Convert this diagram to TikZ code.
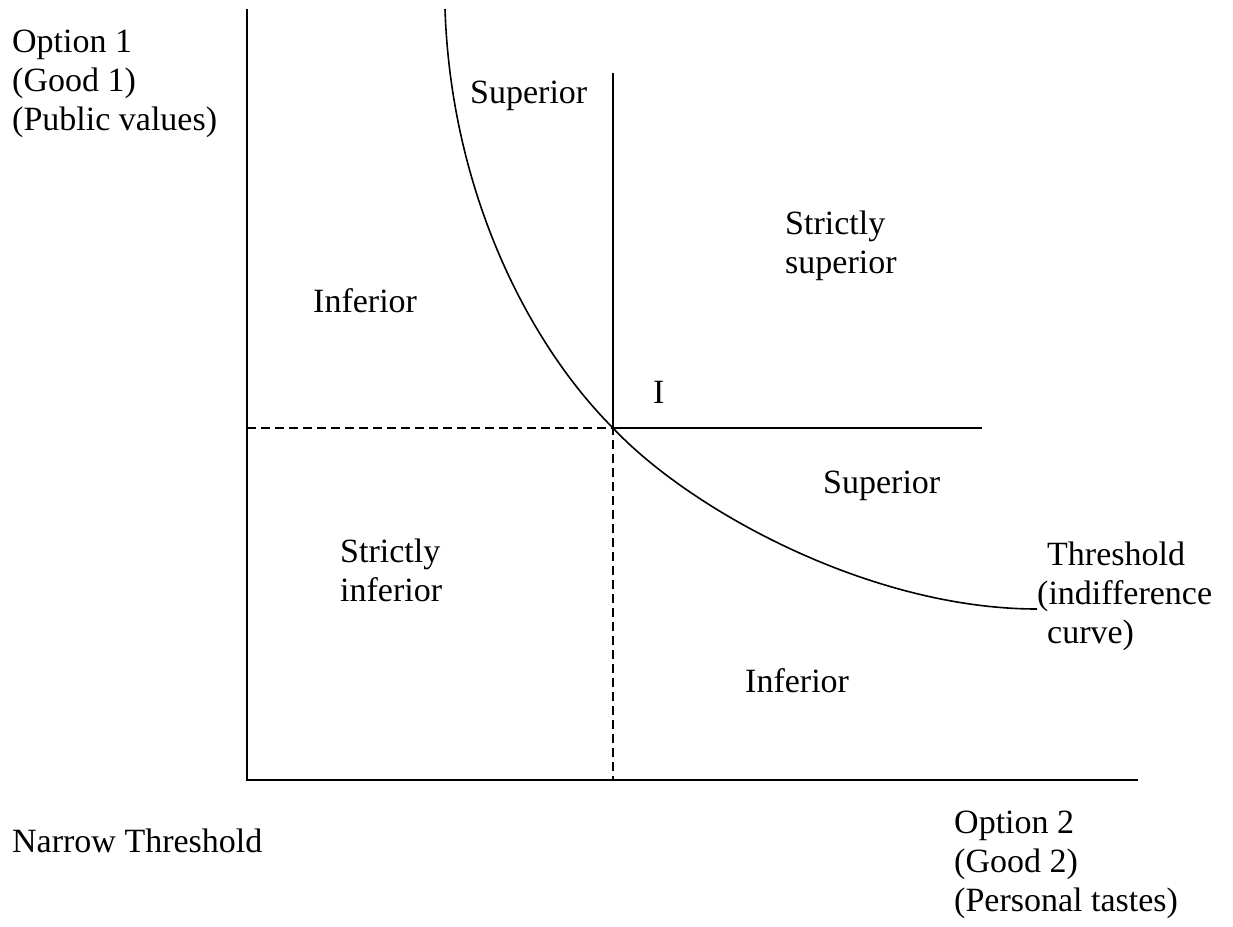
\documentclass[tikz,border=0pt]{standalone}
\usepackage{fontspec}
\setmainfont{Liberation Serif}
\begin{document}
\begin{tikzpicture}[x=1pt,y=-1pt,
  lbl/.style={font=\fontsize{34}{39}\selectfont, inner sep=0pt, anchor=base west, align=left},
  axisline/.style={line width=1.7pt},
  guide/.style={line width=2.7pt, dash pattern=on 9pt off 5pt},
  curveline/.style={line width=1.6pt}]
  \useasboundingbox (0,0) rectangle (1233,926);
  % key points
  \coordinate (Otop)  at (247,9);
  \coordinate (O)     at (247,780);
  \coordinate (Xend)  at (1138,780);
  \coordinate (Yq)    at (247,428);
  \coordinate (I)     at (613,428);
  \coordinate (Xq)    at (613,780);
  \coordinate (Itop)  at (613,73);
  \coordinate (Iright) at (982,428);
  \coordinate (Cstart) at (445,9);
  \coordinate (Cend)  at (1037,609);
  % axes
  \draw[axisline] (Otop) -- (O) -- (Xend);
  % quadrant lines through I
  \draw[axisline] (Itop) -- (I) -- (Iright);
  \draw[guide] (Yq) -- (I) -- (Xq);
  % threshold (indifference curve)
  \draw[curveline] (Cstart) .. controls (451,190) and (527,342) .. (I)
                   .. controls (690,510) and (870,609) .. (Cend);
  % labels (multi-line nodes sit on the baseline of their last line)
  \node[lbl] (yaxis) at (12,130) {Option 1\\(Good 1)\\(Public values)};
  \node[lbl] (xaxis) at (954,911) {Option 2\\(Good 2)\\(Personal tastes)};
  \node[lbl] (title) at (12,852) {Narrow Threshold};
  \node[lbl] (supTop) at (470,103) {Superior};
  \node[lbl] (strSup) at (785,273) {Strictly\\superior};
  \node[lbl] (infLeft) at (313,312) {Inferior};
  \node[lbl] (ilabel) at (653,403) {I};
  \node[lbl] (supRight) at (823,493) {Superior};
  \node[lbl] (strInf) at (340,601) {Strictly\\inferior};
  \node[lbl] (thr) at (1047,643) {Threshold\\\hspace*{-10pt}(indifference\\curve)};
  \node[lbl] (infBot) at (745,692) {Inferior};
\end{tikzpicture}
\end{document}
